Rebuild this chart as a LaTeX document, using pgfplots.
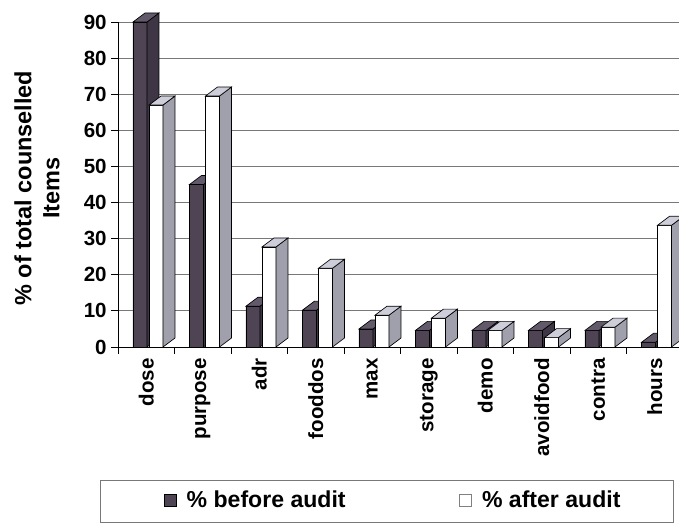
\documentclass[border=0pt]{standalone}
\usepackage{pgfplots}
\pgfplotsset{compat=1.18}
\usepackage{pgfplotstable}
\usepackage{fontspec}
\setmainfont{Liberation Sans}

\definecolor{darkfront}{RGB}{78,68,84}
\definecolor{darkside}{RGB}{62,54,68}
\definecolor{darktop}{RGB}{98,90,106}
\definecolor{liteside}{RGB}{160,160,172}
\definecolor{litetop}{RGB}{206,206,218}
\definecolor{gridgray}{RGB}{120,120,120}

% share of counselled items, before and after the audit
\pgfplotstableread{
idx name before after
0 dose 90 67
1 purpose 45 69.5
2 adr 11.3 27.7
3 fooddos 10.2 21.8
4 max 5 8.8
5 storage 4.6 8
6 demo 4.6 4.6
7 avoidfood 4.6 2.6
8 contra 4.6 5.5
9 hours 1.3 33.7
}\counsel

% bar geometry and depth of the extruded faces
\newcommand\dx{9pt}
\newcommand\dy{6.75pt}
\newcommand\bw{10.5pt}
\pgfmathsetlengthmacro\yunit{243.75pt/90}

\pgfdeclareplotmark{nomark}{}

% front, side and top face of a bar; the origin is the centre of the category at the bar's value
\newcommand\barfaces[5]{%
  \pgfmathsetlengthmacro\hh{#2*\yunit}%
  \pgfmathsetlengthmacro\xr{#1+0.5*\bw}%
  \pgfmathsetlengthmacro\xl{#1-0.5*\bw}%
  \filldraw[fill=#5, draw=black, line width=0.5pt]
    (\xl,0pt) rectangle (\xr,-\hh);
  \filldraw[fill=#3, draw=black, line width=0.5pt]
    (\xr,0pt) -- ++(\dx,\dy) -- ++(0pt,-\hh) -- (\xr,-\hh) -- cycle;
  \filldraw[fill=#4, draw=black, line width=0.5pt]
    (\xl,0pt) -- ++(\dx,\dy) -- ++(\bw,0pt) -- (\xr,0pt) -- cycle;
}

\begin{document}
\begin{tikzpicture}
\useasboundingbox (0,0) rectangle (509.25pt,393pt);
\begin{axis}[
  at={(88.5pt,132.75pt)}, anchor=south west,
  scale only axis, width=423.75pt, height=243.75pt,
  clip=false,
  xmin=-0.5, xmax=9.5, ymin=0, ymax=90,
  axis lines*=left,
  axis line style={black, line width=0.6pt},
  tick align=outside,
  major tick length=5pt,
  tick style={black, line width=0.6pt},
  ytick={0,10,...,90},
  xtick={-0.5,0.5,...,9.5},
  x tick label as interval,
  xticklabels={dose,purpose,adr,fooddos,max,storage,demo,avoidfood,contra,hours},
  xticklabel style={rotate=90, anchor=east, font=\bfseries\fontsize{15.4}{18}\selectfont},
  yticklabel style={font=\bfseries\fontsize{15.4}{18}\selectfont},
  /pgf/number format/assume math mode=true,
  ymajorgrids,
  grid style={gridgray, line width=0.6pt},
  ylabel={\% of total counselled\\Items},
  ylabel style={align=center, font=\bfseries\fontsize{17.6}{21}\selectfont,
    at={(axis description cs:-0.1434,0.489)}, anchor=center, rotate=0},
  legend columns=2,
  legend style={at={(axis description cs:-0.0319,-0.4092)}, anchor=north west,
    draw=gridgray, line width=0.6pt, inner xsep=37.5pt, inner ysep=6pt,
    font=\bfseries\fontsize{17.3}{20}\selectfont,
    /tikz/every odd column/.append style={column sep=5.75pt},
    /tikz/every even column/.append style={column sep=83pt}},
]
\addlegendimage{legend image code/.code={\path (-10pt,0pt) (0pt,-10pt);\filldraw[fill=darkfront, draw=black, line width=0.4pt] (0pt,-4.5pt) rectangle (9pt,4.5pt);}}
\addlegendentry{\% before audit}
\addlegendimage{legend image code/.code={\filldraw[fill=white, draw=gray, line width=0.6pt] (0pt,-4.5pt) rectangle (9pt,4.5pt);}}
\addlegendentry{\% after audit}

% before audit
\addplot[ybar, bar width=\bw, bar shift=-4.7pt, fill=darkfront, draw=black, line width=0.5pt, forget plot]
  table[x=idx, y=before] {\counsel};
\addplot[scatter, only marks, mark=nomark, forget plot,
  visualization depends on={rawy \as \hval},
  scatter/@pre marker code/.code={\barfaces{-4.7pt}{\hval}{darkside}{darktop}{darkfront}},
  scatter/@post marker code/.code={}]
  table[x=idx, y=before] {\counsel};

% after audit
\addplot[ybar, bar width=\bw, bar shift=7.3pt, fill=white, draw=black, line width=0.5pt, forget plot]
  table[x=idx, y=after] {\counsel};
\addplot[scatter, only marks, mark=nomark, forget plot,
  visualization depends on={rawy \as \hval},
  scatter/@pre marker code/.code={\barfaces{7.3pt}{\hval}{liteside}{litetop}{white}},
  scatter/@post marker code/.code={}]
  table[x=idx, y=after] {\counsel};
\end{axis}
\end{tikzpicture}
\end{document}
